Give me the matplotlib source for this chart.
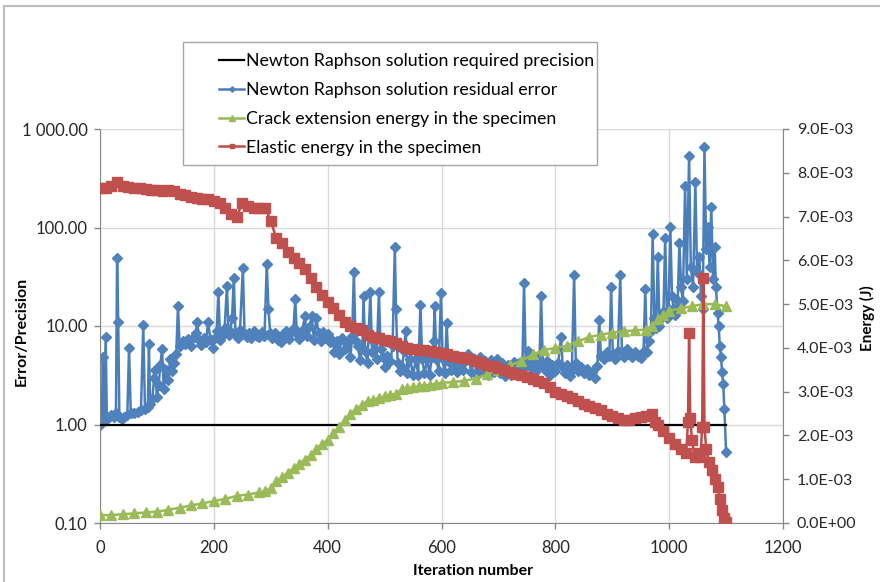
import matplotlib
matplotlib.use('Agg')
import matplotlib.pyplot as plt
from matplotlib.lines import Line2D
from matplotlib.patches import Rectangle

plt.rcParams['font.family'] = ['Lato', 'DejaVu Sans']

# required precision (left axis)
precision_x = [0, 1100]
precision_y = [1.0, 1.0]

# Newton Raphson residual error (left axis, log)
residual_x = [0, 3, 5, 7, 10, 12, 15, 20, 25, 28, 30, 32, 34, 38, 42, 48, 51, 54, 60, 66,
              72, 76, 79, 84, 86, 88, 92, 95, 97, 100, 103, 106, 109, 112, 116, 120, 123, 126, 130, 134,
              137, 140, 145, 150, 155, 160, 165, 168, 171, 174, 178, 182, 186, 190, 194, 198, 202, 205, 208, 211,
              215, 219, 223, 226, 229, 232, 235, 238, 242, 246, 251, 254, 258, 262, 266, 270, 275, 280, 285, 289,
              293, 296, 299, 303, 308, 313, 318, 322, 327, 332, 336, 340, 343, 346, 350, 355, 360, 363, 368, 372,
              376, 380, 384, 388, 392, 396, 400, 404, 408, 412, 416, 420, 425, 430, 435, 440, 443, 446, 449, 453,
              457, 461, 463, 466, 470, 475, 478, 482, 486, 490, 493, 497, 501, 505, 510, 514, 518, 520, 523, 527,
              531, 534, 537, 540, 545, 550, 555, 559, 563, 566, 570, 575, 579, 583, 586, 588, 591, 595, 599, 602,
              606, 609, 612, 617, 622, 627, 632, 637, 642, 647, 652, 657, 662, 667, 672, 677, 682, 687, 692, 697,
              702, 707, 712, 717, 722, 727, 732, 737, 742, 745, 748, 752, 756, 760, 764, 768, 772, 775, 778, 782,
              786, 790, 795, 800, 805, 810, 813, 817, 821, 825, 829, 833, 836, 840, 845, 850, 855, 860, 865, 870,
              874, 877, 880, 885, 890, 895, 898, 901, 905, 910, 914, 917, 921, 926, 930, 935, 940, 945, 950, 955,
              958, 961, 965, 968, 971, 974, 977, 980, 983, 986, 990, 993, 996, 999, 1002, 1005, 1008, 1011, 1015, 1018,
              1021, 1024, 1028, 1031, 1035, 1038, 1042, 1046, 1049, 1053, 1056, 1059, 1062, 1065, 1068, 1071, 1074, 1077, 1080, 1082,
              1085, 1087, 1089, 1091, 1093, 1095, 1097, 1100]
residual_y = [1.0, 1.05, 4.9, 1.1, 7.8, 1.15, 1.2, 1.25, 1.2, 1.3, 49, 11, 1.2, 1.15, 1.2, 1.25, 6.0, 1.3, 1.3, 1.35,
              1.4, 10.3, 1.45, 1.5, 6.5, 1.6, 1.8, 3.0, 3.6, 1.9, 2.5, 4.0, 5.8, 2.3, 3.6, 2.8, 4.6, 3.5, 4.2, 5.2,
              15.8, 6.2, 7.0, 6.6, 7.4, 6.3, 7.8, 8.5, 11, 7.2, 6.4, 7.5, 6.8, 11, 7.3, 6.0, 7.6, 8.8, 22.4, 7.2,
              8.0, 9.5, 25.7, 8.1, 9.0, 12, 31, 8.5, 7.5, 9.2, 39, 8.2, 7.7, 8.4, 7.6, 8.8, 8.0, 7.8, 8.6, 7.9,
              43, 15, 8.5, 7.6, 8.4, 7.2, 6.8, 8.2, 9.0, 7.4, 8.7, 9.6, 18.6, 8.2, 7.4, 8.8, 12.5, 8.0, 9.8, 12.5,
              7.2, 12.0, 8.4, 7.0, 8.6, 7.5, 8.2, 6.8, 7.2, 5.5, 7.0, 5.2, 7.6, 5.8, 6.8, 4.8, 8.0, 35, 7.0, 6.2,
              4.5, 6.0, 20, 5.6, 4.2, 22, 5.5, 6.8, 4.6, 22, 5.9, 4.9, 3.8, 5.0, 4.4, 6.2, 63, 15, 4.2, 3.5,
              3.8, 5.6, 9, 3.3, 4.6, 3.2, 4.6, 3.2, 16.5, 4.6, 3.3, 4.6, 3.2, 4.8, 7.0, 16, 4.6, 3.5, 21.7, 4.6,
              3.3, 10.8, 4.4, 3.6, 4.2, 3.4, 4.1, 3.6, 4.4, 5.2, 3.4, 4.6, 3.2, 4.8, 3.6, 4.4, 3.2, 4.5, 3.4, 4.6,
              3.3, 4.2, 3.1, 4.0, 3.2, 4.3, 3.5, 4.2, 3.6, 27.6, 4.2, 5.6, 3.8, 4.4, 3.4, 4.6, 4.0, 20, 4.2, 3.6,
              4.4, 3.2, 4.0, 3.5, 4.2, 7.8, 3.8, 3.3, 4.0, 3.1, 3.6, 33, 4.2, 3.5, 3.8, 3.3, 3.7, 3.2, 3.4, 3.0,
              3.9, 11.6, 5.0, 4.6, 5.5, 5.0, 24.6, 5.2, 4.6, 5.6, 32.6, 5.5, 4.8, 5.8, 5.2, 4.8, 5.5, 5.0, 4.7, 5.6,
              24, 5.5, 7.0, 9.0, 85, 12, 9.5, 50, 10, 12, 14, 79, 12, 15, 102, 20, 15, 13, 18, 70,
              25, 18, 262, 30, 530, 40, 25, 287, 35, 50, 20, 15, 650, 60, 102, 40, 160, 30, 64, 25,
              13.7, 9.9, 6.2, 4.8, 3.45, 2.55, 1.42, 0.53]

# crack extension energy (right axis, 1e-3 J)
crack_x = [0, 20, 40, 60, 80, 100, 120, 140, 160, 180, 200, 220, 240, 260, 280, 290, 300, 310, 320, 330,
           340, 350, 360, 370, 380, 390, 400, 410, 420, 430, 440, 450, 460, 470, 480, 490, 500, 510, 520, 530,
           540, 550, 560, 570, 580, 590, 600, 620, 640, 660, 680, 700, 720, 740, 760, 780, 800, 820, 840, 860,
           880, 900, 920, 940, 960, 970, 980, 990, 1000, 1020, 1040, 1060, 1080, 1100]
crack_e = [0.18, 0.18, 0.2, 0.22, 0.24, 0.26, 0.3, 0.35, 0.4, 0.45, 0.5, 0.55, 0.62, 0.65, 0.7, 0.72, 0.8, 0.95, 1.05, 1.15,
           1.25, 1.35, 1.45, 1.55, 1.7, 1.8, 1.9, 2.05, 2.2, 2.35, 2.5, 2.6, 2.7, 2.78, 2.82, 2.85, 2.9, 2.92, 2.95, 3.05,
           3.08, 3.1, 3.12, 3.14, 3.16, 3.18, 3.2, 3.22, 3.25, 3.3, 3.4, 3.5, 3.6, 3.7, 3.85, 3.95, 4.0, 4.05, 4.15, 4.25,
           4.3, 4.35, 4.38, 4.4, 4.42, 4.5, 4.65, 4.75, 4.85, 4.9, 4.95, 5.0, 5.0, 4.95]

# elastic energy (right axis, 1e-3 J)
elastic_x = [0, 10, 20, 30, 40, 50, 60, 70, 80, 90, 100, 110, 120, 130, 140, 150, 160, 170, 180, 190,
             200, 210, 220, 230, 240, 250, 260, 270, 280, 290, 300, 310, 320, 330, 340, 350, 360, 370, 380, 390,
             400, 410, 420, 430, 440, 450, 460, 470, 480, 490, 500, 510, 520, 530, 540, 550, 560, 570, 580, 590,
             600, 610, 620, 630, 640, 650, 660, 670, 680, 690, 700, 710, 720, 730, 740, 750, 760, 770, 780, 790,
             800, 810, 820, 830, 840, 850, 860, 870, 880, 890, 900, 910, 920, 930, 940, 950, 960, 970, 975, 980,
             990, 1000, 1010, 1020, 1030, 1033, 1035, 1037, 1040, 1045, 1050, 1055, 1058, 1060, 1062, 1065, 1070, 1075, 1080, 1085,
             1090, 1093, 1096, 1100]
elastic_e = [7.65, 7.65, 7.7, 7.8, 7.7, 7.68, 7.66, 7.65, 7.62, 7.6, 7.6, 7.58, 7.6, 7.58, 7.52, 7.5, 7.45, 7.42, 7.4, 7.4,
             7.35, 7.3, 7.2, 7.05, 7.0, 7.3, 7.25, 7.2, 7.2, 7.2, 6.9, 6.5, 6.4, 6.2, 6.05, 5.95, 5.8, 5.6, 5.4, 5.2,
             5.05, 4.9, 4.75, 4.6, 4.5, 4.45, 4.4, 4.3, 4.25, 4.22, 4.18, 4.15, 4.12, 4.05, 4.0, 3.98, 3.95, 3.95, 3.93, 3.9,
             3.88, 3.85, 3.82, 3.8, 3.78, 3.75, 3.7, 3.65, 3.6, 3.58, 3.55, 3.5, 3.45, 3.4, 3.38, 3.33, 3.3, 3.25, 3.2, 3.1,
             3.0, 2.95, 2.9, 2.85, 2.78, 2.72, 2.68, 2.62, 2.58, 2.5, 2.45, 2.4, 2.35, 2.35, 2.4, 2.42, 2.45, 2.5, 2.3, 2.25,
             2.1, 1.95, 1.8, 1.7, 1.6, 2.3, 4.34, 2.4, 1.9, 1.5, 1.6, 1.5, 2.2, 5.6, 2.2, 1.7, 1.4, 1.2, 1.0, 0.82,
             0.55, 0.3, 0.12, 0.02]

left_ticks = [0.1, 1, 10, 100, 1000]
left_labels = ['0.10', '1.00', '10.00', '100.00', '1 000.00']
x_ticks = [0, 200, 400, 600, 800, 1000, 1200]
right_ticks = [0, 1, 2, 3, 4, 5, 6, 7, 8, 9]

blue = '#4F81BD'
green = '#9BBB59'
red = '#C0504D'
axis_gray = '#868686'
grid_gray = '#D9D9D9'

fig = plt.figure(figsize=(8.8, 5.82), dpi=100)
ax = fig.add_axes([100 / 880, 1 - 523 / 582, 683 / 880, 394 / 582])
ax2 = ax.twinx()

ax.set_yscale('log')
ax.set_xlim(0, 1200)
ax.set_ylim(0.1, 1000)
ax.set_yticks(left_ticks)
ax.set_yticklabels(left_labels)
ax.minorticks_off()
ax.set_xticks(x_ticks)
ax.grid(True, color=grid_gray, linewidth=1)
ax.set_axisbelow(True)

l1, = ax.plot(precision_x, precision_y, color='black', linewidth=1.6, zorder=3)
l2, = ax.plot(residual_x, residual_y, color='#4A7EBB', linewidth=1.8, marker='D',
              markersize=5.5, markerfacecolor=blue, markeredgecolor=blue, zorder=2)

ax2.set_ylim(0, 9)
ax2.set_yticks(right_ticks)
ax2.set_yticklabels(['%.1E' % (v * 1e-3) for v in right_ticks])
l3, = ax2.plot(crack_x, crack_e, color='#98B954', linewidth=1.8, marker='^',
               markersize=7.5, markerfacecolor=green, markeredgecolor=green)
l4, = ax2.plot(elastic_x, elastic_e, color='#BE4B48', linewidth=1.8, marker='s',
               markersize=7, markerfacecolor=red, markeredgecolor=red)

for a in (ax, ax2):
    for side in ('top', 'right', 'left', 'bottom'):
        a.spines[side].set_visible(False)
    a.tick_params(colors=axis_gray, labelcolor='#262626', labelsize=12, length=4, width=1)
ax.spines['left'].set_visible(True)
ax.spines['bottom'].set_visible(True)
ax2.spines['right'].set_visible(True)
for s in (ax.spines['left'], ax.spines['bottom'], ax2.spines['right']):
    s.set_color(axis_gray)
ax.tick_params(axis='x', pad=8)
ax.tick_params(axis='y', pad=5)
ax2.tick_params(axis='y', pad=6, labelsize=11.5)

ax.set_ylabel('Error/Precision', fontsize=11.5, fontweight='bold')
ax.yaxis.set_label_coords(-0.105, 0.487)
ax2.set_ylabel('Energy (J)', fontsize=11, fontweight='bold')
ax2.yaxis.set_label_coords(1.112, 0.52)
ax.set_xlabel('Iteration number', fontsize=11.5, fontweight='bold')
ax.xaxis.set_label_coords(0.546, -0.105)

# legend frame drawn separately (Excel keeps a wide left margin)
fig.add_artist(Rectangle((183 / 880, 1 - 165 / 582), 414 / 880, 123 / 582,
                         transform=fig.transFigure, facecolor='white',
                         edgecolor='#A6A6A6', linewidth=1, zorder=5))
leg = fig.legend([l1, l2, l3, l4],
                 ['Newton Raphson solution required precision',
                  'Newton Raphson solution residual error',
                  'Crack extension energy in the specimen',
                  'Elastic energy in the specimen'],
                 loc='upper left', bbox_to_anchor=(205 / 880, 1 - 39 / 582),
                 fontsize=12.8, frameon=False,
                 handlelength=1.4, handletextpad=0.1, labelspacing=0.72,
                 borderpad=0.3, markerscale=0.5)
leg.set_zorder(10)

# chart area border
fig.add_artist(Line2D([4 / 880, 1], [1 - 6 / 582, 1 - 6 / 582], color='#BFBFBF', linewidth=1.5))
fig.add_artist(Line2D([4 / 880, 4 / 880], [0, 1 - 6 / 582], color='#BFBFBF', linewidth=1.5))

fig.savefig('out.png', dpi=100)
